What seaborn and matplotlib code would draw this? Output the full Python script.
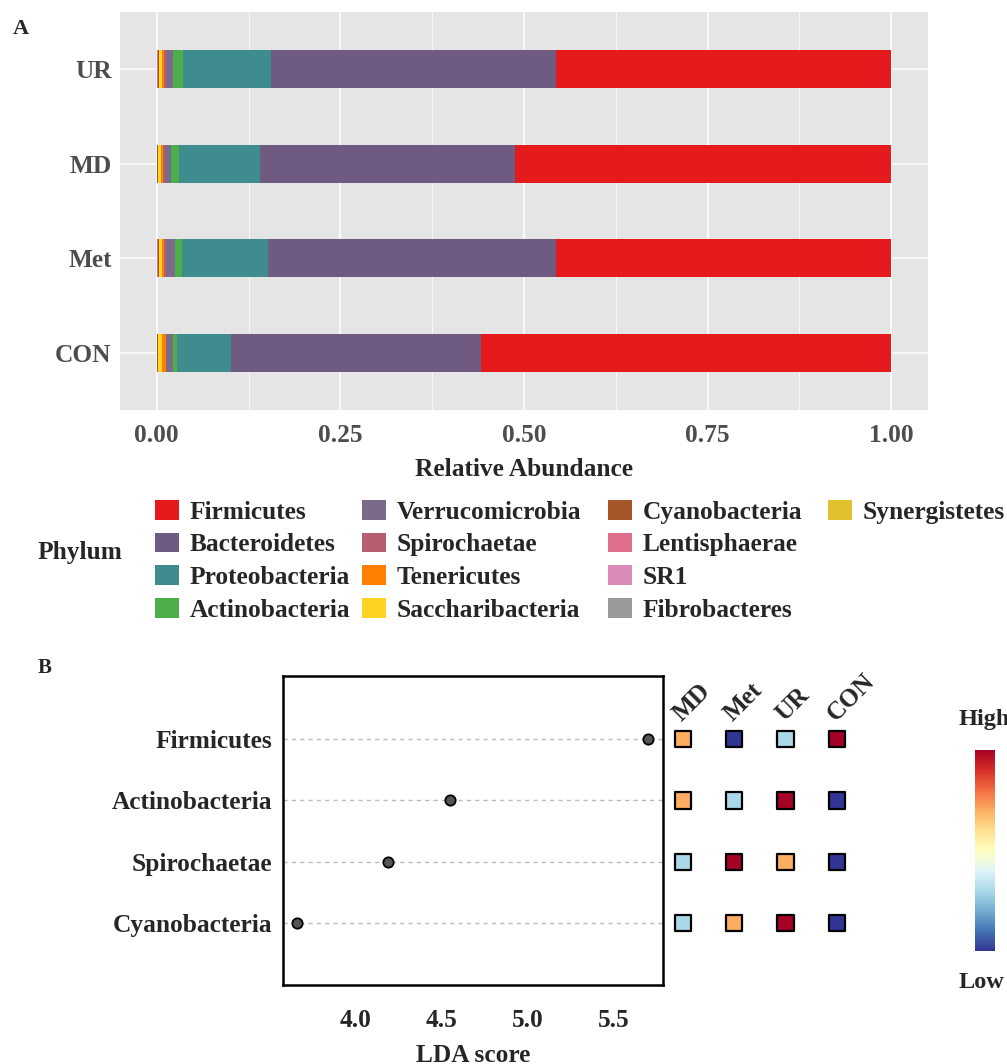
import numpy as np
import pandas as pd
import matplotlib
matplotlib.use("Agg")
import matplotlib.pyplot as plt
import seaborn as sns
from matplotlib.patches import Patch
from matplotlib.colors import Normalize
from matplotlib.cm import ScalarMappable

# --------------------------------------------------
# Data
# --------------------------------------------------
groups = ["UR", "MD", "Met", "CON"]

phyla = ["Firmicutes", "Bacteroidetes", "Proteobacteria", "Actinobacteria",
         "Verrucomicrobia", "Spirochaetae", "Tenericutes", "Saccharibacteria",
         "Cyanobacteria", "Lentisphaerae", "SR1", "Fibrobacteres", "Synergistetes"]

phylum_colors = ["#E41A1C", "#6F5A82", "#3E8C8E", "#4DAF4A",
                 "#7B6A8A", "#B65F6E", "#FF8000", "#FFD324",
                 "#A65628", "#DE6F8A", "#DA8BB8", "#999999", "#E0C22E"]

# relative abundance, same order as phyla
abund_UR = [0.457, 0.388, 0.119, 0.014, 0.010, 0.002, 0.003, 0.004, 0.0012, 0.0008, 0.0005, 0.0003, 0.0002]
abund_MD = [0.512, 0.348, 0.109, 0.011, 0.009, 0.002, 0.003, 0.004, 0.0010, 0.0005, 0.0003, 0.0001, 0.0001]
abund_Met = [0.457, 0.392, 0.116, 0.010, 0.013, 0.002, 0.003, 0.004, 0.0012, 0.0008, 0.0005, 0.0003, 0.0002]
abund_CON = [0.558, 0.341, 0.073, 0.006, 0.009, 0.001, 0.005, 0.005, 0.0010, 0.0005, 0.0003, 0.0001, 0.0001]

lefse_taxa = ["Firmicutes", "Actinobacteria", "Spirochaetae", "Cyanobacteria"]
lda_score = [5.70, 4.55, 4.19, 3.66]

heat_groups = ["MD", "Met", "UR", "CON"]
# scaled abundance (0 = low, 1 = high), rows follow lefse_taxa
heat_Firmicutes = [0.7, 0.0, 0.3, 1.0]
heat_Actinobacteria = [0.7, 0.3, 1.0, 0.0]
heat_Spirochaetae = [0.3, 1.0, 0.7, 0.0]
heat_Cyanobacteria = [0.3, 0.7, 1.0, 0.0]

# --------------------------------------------------
# Style
# --------------------------------------------------
sns.set_style("white")
plt.rcParams["font.family"] = ["Liberation Serif", "DejaVu Serif"]
plt.rcParams["font.weight"] = "bold"
plt.rcParams["axes.labelweight"] = "bold"
FS = 18.3

fig = plt.figure(figsize=(10.07, 10.64), dpi=100)

# --------------------------------------------------
# Panel A: stacked bars
# --------------------------------------------------
abund = pd.DataFrame({"UR": abund_UR, "MD": abund_MD, "Met": abund_Met, "CON": abund_CON},
                     index=phyla)
# cumulative from the left end (last phylum sits at the left)
cum = abund.iloc[::-1].cumsum().iloc[::-1]

axA = fig.add_axes([120 / 1007, 1 - 410 / 1064, 808 / 1007, 398 / 1064])
axA.set_facecolor("#E5E5E5")
axA.set_axisbelow(True)
for ph, col in zip(phyla, phylum_colors):
    d = pd.DataFrame({"group": groups, "value": cum.loc[ph, groups].values})
    sns.barplot(data=d, x="value", y="group", order=groups, color=col,
                saturation=1, width=0.4, errorbar=None, linewidth=0, ax=axA)

axA.set_xlim(-0.05, 1.05)
axA.set_ylim(3.6, -0.6)
axA.set_xticks([0, 0.25, 0.5, 0.75, 1.0])
axA.set_xticklabels(["0.00", "0.25", "0.50", "0.75", "1.00"])
axA.set_xticks([0.125, 0.375, 0.625, 0.875], minor=True)
axA.grid(which="major", color="white", linewidth=1.1)
axA.grid(which="minor", axis="x", color="white", linewidth=0.5)
for s in axA.spines.values():
    s.set_visible(False)
axA.tick_params(axis="both", which="major", length=3, width=1, color="#333333",
                labelcolor="#4D4D4D", labelsize=FS)
axA.tick_params(axis="x", which="major", pad=7)
axA.tick_params(axis="y", which="major", pad=3)
axA.tick_params(axis="x", which="minor", length=0)
axA.set_xlabel("Relative Abundance", fontsize=FS, fontweight="bold", labelpad=8)
axA.set_ylabel("")

# legend: four columns of four rows
key_x = [155, 362, 608, 828]
for c, x0 in enumerate(key_x):
    idx = range(4 * c, min(4 * c + 4, len(phyla)))
    hs = [Patch(facecolor=phylum_colors[i], edgecolor="none", label=phyla[i]) for i in idx]
    fig.legend(handles=hs, ncol=1, loc="upper left",
               bbox_to_anchor=(x0 / 1007, 1 - 500 / 1064), frameon=False,
               prop={"size": FS, "weight": "bold"}, borderpad=0, borderaxespad=0,
               handlelength=0.95, handleheight=0.82, handletextpad=0.42,
               labelspacing=0.35)
fig.text(38 / 1007, 1 - 553 / 1064, "Phylum", fontsize=FS, fontweight="bold",
         ha="left", va="center")

fig.text(13 / 1007, 1 - 29 / 1064, "A", fontsize=16, fontweight="bold", ha="left", va="center")
fig.text(38 / 1007, 1 - 668 / 1064, "B", fontsize=15, fontweight="bold", ha="left", va="center")

# --------------------------------------------------
# Panel B: LDA scores
# --------------------------------------------------
ypos = np.arange(len(lefse_taxa), 0, -1)
lda = pd.DataFrame({"taxon": lefse_taxa, "lda": lda_score, "y": ypos})

axB = fig.add_axes([283 / 1007, 1 - 985 / 1064, 380 / 1007, 309 / 1064])
axB.set_axisbelow(True)
axB.grid(axis="y", color="#BBBBBB", linestyle=(0, (3, 3)), linewidth=1)
axB.grid(axis="x", visible=False)
sns.scatterplot(data=lda, x="lda", y="y", color="#555555", edgecolor="black",
                linewidth=1.3, s=55, zorder=3, ax=axB, legend=False)
axB.set_xlim(3.576, 5.79)
axB.set_ylim(-0.01, 5.03)
axB.set_xticks([4.0, 4.5, 5.0, 5.5])
axB.set_xticklabels(["4.0", "4.5", "5.0", "5.5"])
axB.set_yticks(ypos)
axB.set_yticklabels(lefse_taxa)
for s in axB.spines.values():
    s.set_color("black")
    s.set_linewidth(1.8)
axB.tick_params(axis="x", length=8, width=1.6, color="black", labelsize=FS, pad=9)
axB.tick_params(axis="y", length=0, labelsize=FS, pad=8)
axB.set_xlabel("LDA score", fontsize=FS, fontweight="bold", labelpad=9)
axB.set_ylabel("")

# heat squares next to the LDA panel
heat_rows = [heat_Firmicutes, heat_Actinobacteria, heat_Spirochaetae, heat_Cyanobacteria]
heat = pd.DataFrame([(g, y, v) for y, row in zip(ypos, heat_rows)
                     for g, v in zip(heat_groups, row)], columns=["group", "y", "value"])
heat["x"] = heat["group"].map({g: i for i, g in enumerate(heat_groups)})

axH = fig.add_axes([665 / 1007, 1 - 985 / 1064, 195 / 1007, 309 / 1064])
sns.scatterplot(data=heat, x="x", y="y", hue="value", palette="RdYlBu_r",
                hue_norm=(0, 1), marker="s", s=140, edgecolor="black",
                linewidth=1.6, legend=False, ax=axH)
axH.set_xlim(-0.35, 3.45)
axH.set_ylim(-0.01, 5.03)
axH.axis("off")
for i, g in enumerate(heat_groups):
    axH.text(i - 0.03, 4.28, g, rotation=45, rotation_mode="anchor",
             ha="left", va="baseline", fontsize=FS, fontweight="bold")

# colour bar
cax = fig.add_axes([974.5 / 1007, 1 - 951 / 1064, 20 / 1007, 201 / 1064])
cb = fig.colorbar(ScalarMappable(norm=Normalize(0, 1), cmap="RdYlBu_r"), cax=cax)
cb.set_ticks([])
cb.outline.set_visible(False)
fig.text(959 / 1007, 1 - 719 / 1064, "High", fontsize=17.5, fontweight="bold", ha="left", va="center")
fig.text(959 / 1007, 1 - 983 / 1064, "Low", fontsize=17.5, fontweight="bold", ha="left", va="center")

fig.savefig("out.png", dpi=100)
